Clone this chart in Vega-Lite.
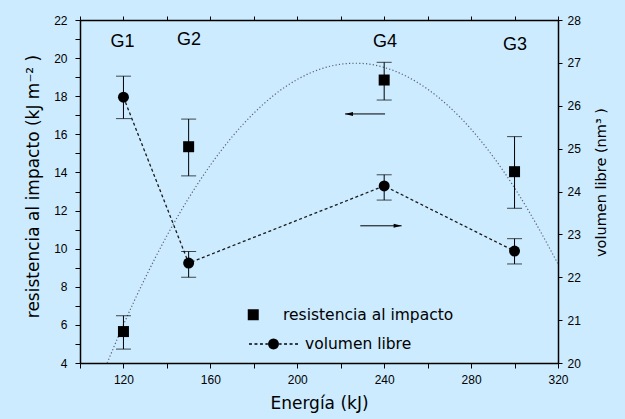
{
  "$schema": "https://vega.github.io/schema/vega-lite/v6.json",
  "width": 478,
  "height": 343,
  "autosize": "none",
  "padding": {"left": 80, "top": 20, "right": 67, "bottom": 56},
  "background": "#CCEBFF",
  "config": {
    "view": {"stroke": null},
    "font": "Liberation Sans",
    "axis": {"grid": false, "labelFlush": false, "labelColor": "black", "labelFont": "Liberation Sans", "labelFontSize": 12, "tickColor": "black", "tickWidth": 1, "domainColor": "black", "domainWidth": 1.5, "titleColor": "black", "titleFont": "DejaVu Sans", "titleFontWeight": "normal", "labelOverlap": false}
  },
  "datasets": {
    "resist": [
      {"energia": 120, "resistencia": 5.65, "lo": 4.73, "hi": 6.48, "serie": "resistencia al impacto"},
      {"energia": 150, "resistencia": 15.35, "lo": 13.82, "hi": 16.8, "serie": "resistencia al impacto"},
      {"energia": 240, "resistencia": 18.85, "lo": 17.8, "hi": 19.78, "serie": "resistencia al impacto"},
      {"energia": 300, "resistencia": 14.04, "lo": 12.12, "hi": 15.88, "serie": "resistencia al impacto"}
    ],
    "vol": [
      {"energia": 120, "volumen": 26.2, "lo": 25.7, "hi": 26.69, "serie": "volumen libre"},
      {"energia": 150, "volumen": 22.33, "lo": 22.0, "hi": 22.6, "serie": "volumen libre"},
      {"energia": 240, "volumen": 24.13, "lo": 23.8, "hi": 24.39, "serie": "volumen libre"},
      {"energia": 300, "volumen": 22.61, "lo": 22.31, "hi": 22.9, "serie": "volumen libre"}
    ],
    "ajuste": [
      {"energia": 112.5, "resistencia": 4.0},
      {"energia": 120, "resistencia": 6.01},
      {"energia": 130, "resistencia": 8.46},
      {"energia": 140, "resistencia": 10.68},
      {"energia": 150, "resistencia": 12.65},
      {"energia": 160, "resistencia": 14.38},
      {"energia": 170, "resistencia": 15.87},
      {"energia": 180, "resistencia": 17.11},
      {"energia": 190, "resistencia": 18.12},
      {"energia": 200, "resistencia": 18.88},
      {"energia": 210, "resistencia": 19.4},
      {"energia": 220, "resistencia": 19.68},
      {"energia": 226.5, "resistencia": 19.73},
      {"energia": 230, "resistencia": 19.72},
      {"energia": 240, "resistencia": 19.51},
      {"energia": 250, "resistencia": 19.06},
      {"energia": 260, "resistencia": 18.37},
      {"energia": 270, "resistencia": 17.44},
      {"energia": 280, "resistencia": 16.27},
      {"energia": 290, "resistencia": 14.85},
      {"energia": 300, "resistencia": 13.19},
      {"energia": 310, "resistencia": 11.29},
      {"energia": 320, "resistencia": 9.2}
    ],
    "flechaIzq": [{"desde": 222, "hasta": 240.4, "punta": 223.8, "nivel": 17.07}],
    "flechaDer": [{"desde": 229, "hasta": 248, "punta": 246.2, "nivel": 23.2}],
    "grupos": [
      {"etiqueta": "G1", "energia": 119.6, "nivel": 20.87},
      {"etiqueta": "G2", "energia": 150.2, "nivel": 20.95},
      {"etiqueta": "G4", "energia": 240.4, "nivel": 20.87},
      {"etiqueta": "G3", "energia": 300.2, "nivel": 20.68}
    ]
  },
  "layer": [
    {
      "layer": [
        {
          "data": {"name": "ajuste"},
          "mark": {"type": "line", "stroke": "#5a6070", "strokeDash": [1.2, 2.2], "strokeWidth": 1.2, "interpolate": "monotone"},
          "encoding": {
            "x": {"field": "energia", "type": "quantitative", "scale": {"domain": [100, 320], "nice": false, "zero": false},
              "axis": {"orient": "bottom", "values": [100, 120, 140, 160, 180, 200, 220, 240, 260, 280, 300, 320], "title": "Energía (kJ)", "titleFontSize": 17, "titleBaseline": "middle", "titleY": 40, "labelExpr": "datum.value % 40 === 0 ? datum.label : ''", "labelOverlap": false, "tickSize": 5, "labelPadding": 6}},
            "y": {"field": "resistencia", "type": "quantitative", "scale": {"domain": [4, 22], "nice": false, "zero": false},
              "axis": {"orient": "left", "values": [4, 5, 6, 7, 8, 9, 10, 11, 12, 13, 14, 15, 16, 17, 18, 19, 20, 21, 22], "title": "resistencia al impacto (kJ m⁻² )", "titleFontSize": 17, "titleAngle": 270, "titleBaseline": "middle", "titleAlign": "center", "titleX": -47, "titleY": 166, "labelExpr": "datum.value % 2 ? '' : datum.label", "labelOverlap": false, "tickSize": 5, "labelPadding": 8}}
          }
        },
        {
          "data": {"name": "resist"},
          "mark": {"type": "rule", "color": "black", "strokeWidth": 1},
          "encoding": {
            "x": {"field": "energia", "type": "quantitative", "axis": null},
            "y": {"field": "lo", "type": "quantitative", "scale": {"domain": [4, 22], "nice": false, "zero": false},
              "axis": {"orient": "left", "values": [4, 5, 6, 7, 8, 9, 10, 11, 12, 13, 14, 15, 16, 17, 18, 19, 20, 21, 22], "title": "resistencia al impacto (kJ m⁻² )", "titleFontSize": 17, "titleAngle": 270, "titleBaseline": "middle", "titleAlign": "center", "titleX": -47, "titleY": 166, "labelExpr": "datum.value % 2 ? '' : datum.label", "labelOverlap": false, "tickSize": 5, "labelPadding": 8}},
            "y2": {"field": "hi"}
          }
        },
        {
          "data": {"name": "resist"},
          "mark": {"type": "tick", "orient": "horizontal", "color": "black", "size": 15, "thickness": 1},
          "encoding": {
            "x": {"field": "energia", "type": "quantitative", "axis": null},
            "y": {"field": "lo", "type": "quantitative", "scale": {"domain": [4, 22], "nice": false, "zero": false},
              "axis": {"orient": "left", "values": [4, 5, 6, 7, 8, 9, 10, 11, 12, 13, 14, 15, 16, 17, 18, 19, 20, 21, 22], "title": "resistencia al impacto (kJ m⁻² )", "titleFontSize": 17, "titleAngle": 270, "titleBaseline": "middle", "titleAlign": "center", "titleX": -47, "titleY": 166, "labelExpr": "datum.value % 2 ? '' : datum.label", "labelOverlap": false, "tickSize": 5, "labelPadding": 8}}
          }
        },
        {
          "data": {"name": "resist"},
          "mark": {"type": "tick", "orient": "horizontal", "color": "black", "size": 15, "thickness": 1},
          "encoding": {
            "x": {"field": "energia", "type": "quantitative", "axis": null},
            "y": {"field": "hi", "type": "quantitative", "scale": {"domain": [4, 22], "nice": false, "zero": false},
              "axis": {"orient": "left", "values": [4, 5, 6, 7, 8, 9, 10, 11, 12, 13, 14, 15, 16, 17, 18, 19, 20, 21, 22], "title": "resistencia al impacto (kJ m⁻² )", "titleFontSize": 17, "titleAngle": 270, "titleBaseline": "middle", "titleAlign": "center", "titleX": -47, "titleY": 166, "labelExpr": "datum.value % 2 ? '' : datum.label", "labelOverlap": false, "tickSize": 5, "labelPadding": 8}}
          }
        },
        {
          "data": {"name": "resist"},
          "mark": {"type": "point", "filled": true, "color": "black", "opacity": 1, "size": 121, "strokeWidth": 0},
          "encoding": {
            "x": {"field": "energia", "type": "quantitative",
              "axis": {"orient": "top", "values": [100, 120, 140, 160, 180, 200, 220, 240, 260, 280, 300, 320], "labels": false, "title": null, "tickSize": 4}},
            "y": {"field": "resistencia", "type": "quantitative", "scale": {"domain": [4, 22], "nice": false, "zero": false},
              "axis": {"orient": "left", "values": [4, 5, 6, 7, 8, 9, 10, 11, 12, 13, 14, 15, 16, 17, 18, 19, 20, 21, 22], "title": "resistencia al impacto (kJ m⁻² )", "titleFontSize": 17, "titleAngle": 270, "titleBaseline": "middle", "titleAlign": "center", "titleX": -47, "titleY": 166, "labelExpr": "datum.value % 2 ? '' : datum.label", "labelOverlap": false, "tickSize": 5, "labelPadding": 8}},
            "shape": {"field": "serie", "type": "nominal", "scale": {"range": ["square"]},
              "legend": {"orient": "none", "legendX": 165.5, "legendY": 287, "title": null, "labelFont": "DejaVu Sans", "labelFontSize": 15.5, "labelColor": "black", "labelOffset": 22, "labelLimit": 0, "symbolSize": 121, "symbolFillColor": "black", "symbolStrokeWidth": 0}}
          }
        },
        {
          "data": {"name": "flechaIzq"},
          "mark": {"type": "rule", "color": "black", "strokeWidth": 1},
          "encoding": {
            "x": {"field": "desde", "type": "quantitative", "axis": null},
            "x2": {"field": "hasta"},
            "y": {"field": "nivel", "type": "quantitative", "scale": {"domain": [4, 22], "nice": false, "zero": false},
              "axis": {"orient": "left", "values": [4, 5, 6, 7, 8, 9, 10, 11, 12, 13, 14, 15, 16, 17, 18, 19, 20, 21, 22], "title": "resistencia al impacto (kJ m⁻² )", "titleFontSize": 17, "titleAngle": 270, "titleBaseline": "middle", "titleAlign": "center", "titleX": -47, "titleY": 166, "labelExpr": "datum.value % 2 ? '' : datum.label", "labelOverlap": false, "tickSize": 5, "labelPadding": 8}}
          }
        },
        {
          "data": {"name": "flechaIzq"},
          "mark": {"type": "point", "shape": "M-1,0L1,-0.5L1,0.5Z", "filled": true, "color": "black", "opacity": 1, "size": 64, "strokeWidth": 0},
          "encoding": {
            "x": {"field": "punta", "type": "quantitative", "axis": null},
            "y": {"field": "nivel", "type": "quantitative", "scale": {"domain": [4, 22], "nice": false, "zero": false},
              "axis": {"orient": "left", "values": [4, 5, 6, 7, 8, 9, 10, 11, 12, 13, 14, 15, 16, 17, 18, 19, 20, 21, 22], "title": "resistencia al impacto (kJ m⁻² )", "titleFontSize": 17, "titleAngle": 270, "titleBaseline": "middle", "titleAlign": "center", "titleX": -47, "titleY": 166, "labelExpr": "datum.value % 2 ? '' : datum.label", "labelOverlap": false, "tickSize": 5, "labelPadding": 8}}
          }
        },
        {
          "data": {"name": "grupos"},
          "mark": {"type": "text", "font": "Liberation Sans", "fontSize": 18, "color": "black", "align": "center", "baseline": "middle"},
          "encoding": {
            "x": {"field": "energia", "type": "quantitative", "axis": null},
            "y": {"field": "nivel", "type": "quantitative", "scale": {"domain": [4, 22], "nice": false, "zero": false},
              "axis": {"orient": "left", "values": [4, 5, 6, 7, 8, 9, 10, 11, 12, 13, 14, 15, 16, 17, 18, 19, 20, 21, 22], "title": "resistencia al impacto (kJ m⁻² )", "titleFontSize": 17, "titleAngle": 270, "titleBaseline": "middle", "titleAlign": "center", "titleX": -47, "titleY": 166, "labelExpr": "datum.value % 2 ? '' : datum.label", "labelOverlap": false, "tickSize": 5, "labelPadding": 8}},
            "text": {"field": "etiqueta"}
          }
        }
      ]
    },
    {
      "layer": [
        {
          "data": {"name": "vol"},
          "mark": {"type": "line", "stroke": "#1a1a1a", "strokeDash": [3, 2.5], "strokeWidth": 1.3},
          "encoding": {
            "x": {"field": "energia", "type": "quantitative", "axis": null},
            "y": {"field": "volumen", "type": "quantitative", "scale": {"domain": [20, 28], "nice": false, "zero": false},
              "axis": {"orient": "right", "values": [20, 20.5, 21, 21.5, 22, 22.5, 23, 23.5, 24, 24.5, 25, 25.5, 26, 26.5, 27, 27.5, 28], "format": "d", "title": "volumen libre (nm³ )", "titleFontSize": 14.5, "titleAngle": 270, "titleBaseline": "middle", "titleAlign": "center", "titleX": 43, "titleY": 162, "labelExpr": "datum.value % 1 ? '' : datum.label", "labelOverlap": false, "tickSize": 4, "labelPadding": 5}}
          }
        },
        {
          "data": {"name": "vol"},
          "mark": {"type": "rule", "color": "black", "strokeWidth": 1},
          "encoding": {
            "x": {"field": "energia", "type": "quantitative", "axis": null},
            "y": {"field": "lo", "type": "quantitative", "scale": {"domain": [20, 28], "nice": false, "zero": false},
              "axis": {"orient": "right", "values": [20, 20.5, 21, 21.5, 22, 22.5, 23, 23.5, 24, 24.5, 25, 25.5, 26, 26.5, 27, 27.5, 28], "format": "d", "title": "volumen libre (nm³ )", "titleFontSize": 14.5, "titleAngle": 270, "titleBaseline": "middle", "titleAlign": "center", "titleX": 43, "titleY": 162, "labelExpr": "datum.value % 1 ? '' : datum.label", "labelOverlap": false, "tickSize": 4, "labelPadding": 5}},
            "y2": {"field": "hi"}
          }
        },
        {
          "data": {"name": "vol"},
          "mark": {"type": "tick", "orient": "horizontal", "color": "black", "size": 15, "thickness": 1},
          "encoding": {
            "x": {"field": "energia", "type": "quantitative", "axis": null},
            "y": {"field": "lo", "type": "quantitative", "scale": {"domain": [20, 28], "nice": false, "zero": false},
              "axis": {"orient": "right", "values": [20, 20.5, 21, 21.5, 22, 22.5, 23, 23.5, 24, 24.5, 25, 25.5, 26, 26.5, 27, 27.5, 28], "format": "d", "title": "volumen libre (nm³ )", "titleFontSize": 14.5, "titleAngle": 270, "titleBaseline": "middle", "titleAlign": "center", "titleX": 43, "titleY": 162, "labelExpr": "datum.value % 1 ? '' : datum.label", "labelOverlap": false, "tickSize": 4, "labelPadding": 5}}
          }
        },
        {
          "data": {"name": "vol"},
          "mark": {"type": "tick", "orient": "horizontal", "color": "black", "size": 15, "thickness": 1},
          "encoding": {
            "x": {"field": "energia", "type": "quantitative", "axis": null},
            "y": {"field": "hi", "type": "quantitative", "scale": {"domain": [20, 28], "nice": false, "zero": false},
              "axis": {"orient": "right", "values": [20, 20.5, 21, 21.5, 22, 22.5, 23, 23.5, 24, 24.5, 25, 25.5, 26, 26.5, 27, 27.5, 28], "format": "d", "title": "volumen libre (nm³ )", "titleFontSize": 14.5, "titleAngle": 270, "titleBaseline": "middle", "titleAlign": "center", "titleX": 43, "titleY": 162, "labelExpr": "datum.value % 1 ? '' : datum.label", "labelOverlap": false, "tickSize": 4, "labelPadding": 5}}
          }
        },
        {
          "data": {"name": "vol"},
          "mark": {"type": "point", "shape": "circle", "filled": true, "opacity": 1, "size": 120, "strokeWidth": 0},
          "encoding": {
            "x": {"field": "energia", "type": "quantitative", "axis": null},
            "y": {"field": "volumen", "type": "quantitative", "scale": {"domain": [20, 28], "nice": false, "zero": false},
              "axis": {"orient": "right", "values": [20, 20.5, 21, 21.5, 22, 22.5, 23, 23.5, 24, 24.5, 25, 25.5, 26, 26.5, 27, 27.5, 28], "format": "d", "title": "volumen libre (nm³ )", "titleFontSize": 14.5, "titleAngle": 270, "titleBaseline": "middle", "titleAlign": "center", "titleX": 43, "titleY": 162, "labelExpr": "datum.value % 1 ? '' : datum.label", "labelOverlap": false, "tickSize": 4, "labelPadding": 5}},
            "color": {"field": "serie", "type": "nominal", "scale": {"range": ["black"]},
              "legend": {"orient": "none", "legendX": 169, "legendY": 299.5, "title": null, "labelFont": "DejaVu Sans", "labelFontSize": 15.5, "labelColor": "black", "labelOffset": 7, "labelLimit": 0, "symbolSize": 2401, "symbolStrokeWidth": 0,
                "symbolType": "M-1,-0.028L-0.88,-0.028L-0.88,0.028L-1,0.028ZM-0.776,-0.028L-0.656,-0.028L-0.656,0.028L-0.776,0.028ZM-0.552,-0.028L-0.432,-0.028L-0.432,0.028L-0.552,0.028ZM-0.33,-0.028L-0.23,-0.028L-0.23,0.028L-0.33,0.028ZM0.23,-0.028L0.33,-0.028L0.33,0.028L0.23,0.028ZM0.432,-0.028L0.552,-0.028L0.552,0.028L0.432,0.028ZM0.656,-0.028L0.776,-0.028L0.776,0.028L0.656,0.028ZM0.88,-0.028L1,-0.028L1,0.028L0.88,0.028ZM0.2245,0L0.2074,0.0859L0.1587,0.1587L0.0859,0.2074L0,0.2245L-0.0859,0.2074L-0.1587,0.1587L-0.2074,0.0859L-0.2245,0L-0.2074,-0.0859L-0.1587,-0.1587L-0.0859,-0.2074L0,-0.2245L0.0859,-0.2074L0.1587,-0.1587L0.2074,-0.0859Z"}}
          }
        },
        {
          "data": {"name": "flechaDer"},
          "mark": {"type": "rule", "color": "black", "strokeWidth": 1},
          "encoding": {
            "x": {"field": "desde", "type": "quantitative", "axis": null},
            "x2": {"field": "hasta"},
            "y": {"field": "nivel", "type": "quantitative", "scale": {"domain": [20, 28], "nice": false, "zero": false},
              "axis": {"orient": "right", "values": [20, 20.5, 21, 21.5, 22, 22.5, 23, 23.5, 24, 24.5, 25, 25.5, 26, 26.5, 27, 27.5, 28], "format": "d", "title": "volumen libre (nm³ )", "titleFontSize": 14.5, "titleAngle": 270, "titleBaseline": "middle", "titleAlign": "center", "titleX": 43, "titleY": 162, "labelExpr": "datum.value % 1 ? '' : datum.label", "labelOverlap": false, "tickSize": 4, "labelPadding": 5}}
          }
        },
        {
          "data": {"name": "flechaDer"},
          "mark": {"type": "point", "shape": "M1,0L-1,-0.5L-1,0.5Z", "filled": true, "color": "black", "opacity": 1, "size": 64, "strokeWidth": 0},
          "encoding": {
            "x": {"field": "punta", "type": "quantitative", "axis": null},
            "y": {"field": "nivel", "type": "quantitative", "scale": {"domain": [20, 28], "nice": false, "zero": false},
              "axis": {"orient": "right", "values": [20, 20.5, 21, 21.5, 22, 22.5, 23, 23.5, 24, 24.5, 25, 25.5, 26, 26.5, 27, 27.5, 28], "format": "d", "title": "volumen libre (nm³ )", "titleFontSize": 14.5, "titleAngle": 270, "titleBaseline": "middle", "titleAlign": "center", "titleX": 43, "titleY": 162, "labelExpr": "datum.value % 1 ? '' : datum.label", "labelOverlap": false, "tickSize": 4, "labelPadding": 5}}
          }
        }
      ]
    }
  ],
  "resolve": {"scale": {"y": "independent"}}
}
